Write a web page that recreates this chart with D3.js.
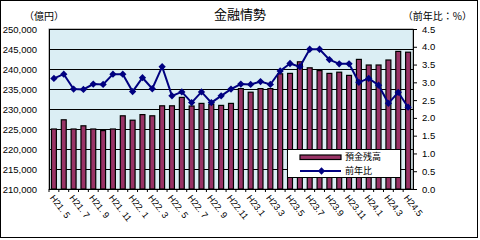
<!DOCTYPE html>
<html>
<head>
<meta charset="utf-8">
<script src="https://cdn.jsdelivr.net/npm/d3@7"></script>
<style>
  body { margin: 0; background: #fff; }
  text { font-family: "Liberation Sans", "Noto Sans CJK JP", sans-serif; }
  .jp { font-family: "Noto Sans CJK JP", sans-serif; }
</style>
</head>
<body>
<div id="chart"></div>
<script>
const months = [
  'H21.5','H21.6','H21.7','H21.8','H21.9','H21.10','H21.11','H21.12',
  'H22.1','H22.2','H22.3','H22.4','H22.5','H22.6','H22.7','H22.8','H22.9','H22.10','H22.11','H22.12',
  'H23.1','H23.2','H23.3','H23.4','H23.5','H23.6','H23.7','H23.8','H23.9','H23.10','H23.11','H23.12',
  'H24.1','H24.2','H24.3','H24.4','H24.5'
];
// 預金残高 (億円)
const deposits = [
  225000, 227300, 225000, 225800, 225000, 224600, 225000, 228300,
  227200, 228600, 228300, 230800, 230800, 232900, 230750, 231400, 231200, 230900, 231400, 235100,
  234200, 235100, 235100, 238800, 238900, 241800, 240300, 239600, 238900, 239200, 238400, 242400,
  241000, 241000, 242250, 244400, 244200
];
// 前年比 (%)
const yoy = [
  3.11, 3.23, 2.81, 2.80, 2.95, 2.94, 3.23, 3.23,
  2.74, 3.13, 2.82, 3.44, 2.62, 2.73, 2.43, 2.73, 2.43, 2.62, 2.81, 2.95,
  2.94, 3.02, 2.94, 3.32, 3.53, 3.44, 3.93, 3.93, 3.64, 3.52, 3.52, 3.00,
  3.11, 2.92, 2.41, 2.72, 2.30
];
const tickLabels = [
  'H21. 5','H21. 7','H21. 9','H21. 11','H22. 1','H22. 3','H22. 5','H22. 7','H22. 9','H22.11',
  'H23.1','H23.3','H23.5','H23.7','H23.9','H23.11','H24.1','H24.3','H24.5'
];
const leftTicks = d3.range(210000, 250001, 5000);
const rightTicks = d3.range(0, 4.51, 0.5);

const width = 480, height = 240;
const plot = { left: 49, right: 413, top: 29, bottom: 189 };

const svg = d3.select('#chart').append('svg')
  .attr('width', width)
  .attr('height', height);

// outer frame
svg.append('rect')
  .attr('x', 0.5).attr('y', 0.5)
  .attr('width', width - 3).attr('height', height - 3)
  .attr('fill', '#fff').attr('stroke', '#000');

const x = d3.scaleBand()
  .domain(months)
  .range([plot.left, plot.right])
  .paddingInner(0.5)
  .paddingOuter(0.25);

const yL = d3.scaleLinear().domain([210000, 250000]).range([plot.bottom, plot.top]);
const yR = d3.scaleLinear().domain([0, 4.5]).range([plot.bottom, plot.top]);

// plot background
svg.append('rect')
  .attr('x', plot.left).attr('y', plot.top)
  .attr('width', plot.right - plot.left).attr('height', plot.bottom - plot.top)
  .attr('fill', '#dbeef4')
  .attr('stroke', '#808080');

// gridlines
svg.append('g')
  .selectAll('line')
  .data(leftTicks.slice(1))
  .enter().append('line')
  .attr('x1', plot.left).attr('x2', plot.right)
  .attr('y1', d => Math.round(yL(d)) + 0.5)
  .attr('y2', d => Math.round(yL(d)) + 0.5)
  .attr('stroke', '#000');

// bars
svg.append('g')
  .selectAll('rect')
  .data(deposits)
  .enter().append('rect')
  .attr('x', (d, i) => x(months[i]))
  .attr('y', d => yL(d))
  .attr('width', x.bandwidth())
  .attr('height', d => plot.bottom - yL(d))
  .attr('fill', '#993366')
  .attr('stroke', '#000')
  .attr('stroke-width', 1.2);

// line
const cx = i => x(months[i]) + x.bandwidth() / 2;
svg.append('path')
  .datum(yoy)
  .attr('d', d3.line().x((d, i) => cx(i)).y(d => yR(d)))
  .attr('fill', 'none')
  .attr('stroke', '#000080')
  .attr('stroke-width', 2);

svg.append('g')
  .selectAll('path')
  .data(yoy)
  .enter().append('path')
  .attr('transform', (d, i) => `translate(${cx(i)},${yR(d)})`)
  .attr('d', d3.symbol(d3.symbolDiamond2, 34))
  .attr('fill', '#000080');

// left axis
const axisL = svg.append('g')
  .attr('transform', `translate(${plot.left},0)`)
  .call(d3.axisLeft(yL).tickValues(leftTicks).tickSize(0).tickPadding(12)
    .tickFormat(d3.format(',')));
axisL.select('.domain').attr('stroke', '#000');
axisL.selectAll('text').attr('font-size', 9.5).attr('fill', '#000');

// right axis
const axisR = svg.append('g')
  .attr('transform', `translate(${plot.right},0)`)
  .call(d3.axisRight(yR).tickValues(rightTicks).tickSize(4).tickPadding(5)
    .tickFormat(d3.format('.1f')));
axisR.select('.domain').attr('stroke', '#000');
axisR.selectAll('line').attr('stroke', '#000');
axisR.selectAll('text').attr('font-size', 9.5).attr('fill', '#000');

// bottom axis
svg.append('line')
  .attr('x1', plot.left).attr('x2', plot.right)
  .attr('y1', plot.bottom + 0.5).attr('y2', plot.bottom + 0.5)
  .attr('stroke', '#000');
svg.append('g')
  .selectAll('line')
  .data(months)
  .enter().append('line')
  .attr('x1', d => x(d) - x.step() * 0.25).attr('x2', d => x(d) - x.step() * 0.25)
  .attr('y1', plot.bottom).attr('y2', plot.bottom + 3)
  .attr('stroke', '#000');

svg.append('g')
  .selectAll('text')
  .data(tickLabels)
  .enter().append('text')
  .attr('transform', (d, i) => `translate(${cx(i * 2) - 2},${plot.bottom + 7}) rotate(52)`)
  .attr('font-size', 9)
  .attr('dy', '0.35em')
  .text(d => d);

// titles
svg.append('text')
  .attr('class', 'jp')
  .attr('x', 240).attr('y', 19)
  .attr('text-anchor', 'middle')
  .attr('font-size', 13)
  .text('金融情勢');
svg.append('text')
  .attr('class', 'jp')
  .attr('x', 24).attr('y', 20)
  .attr('font-size', 10)
  .text('（億円）');
svg.append('text')
  .attr('class', 'jp')
  .attr('x', 472).attr('y', 20)
  .attr('text-anchor', 'end')
  .attr('font-size', 10)
  .text('（前年比：%）');

// legend
const lg = svg.append('g').attr('transform', 'translate(287,150)');
lg.append('rect')
  .attr('x', 0.5).attr('y', -0.5).attr('width', 113).attr('height', 28)
  .attr('fill', '#fff').attr('stroke', '#000');
lg.append('rect')
  .attr('x', 13).attr('y', 5).attr('width', 41).attr('height', 4.5)
  .attr('fill', '#993366').attr('stroke', '#000').attr('stroke-width', 1.2);
lg.append('line')
  .attr('x1', 13).attr('x2', 54).attr('y1', 21).attr('y2', 21)
  .attr('stroke', '#000080').attr('stroke-width', 2);
lg.append('path')
  .attr('transform', 'translate(34.5,21)')
  .attr('d', d3.symbol(d3.symbolDiamond2, 34))
  .attr('fill', '#000080');
lg.append('text').attr('class', 'jp')
  .attr('x', 58).attr('y', 7.3).attr('dy', '0.35em').attr('font-size', 9)
  .text('預金残高');
lg.append('text').attr('class', 'jp')
  .attr('x', 58).attr('y', 21).attr('dy', '0.35em').attr('font-size', 9)
  .text('前年比');
</script>
</body>
</html>
